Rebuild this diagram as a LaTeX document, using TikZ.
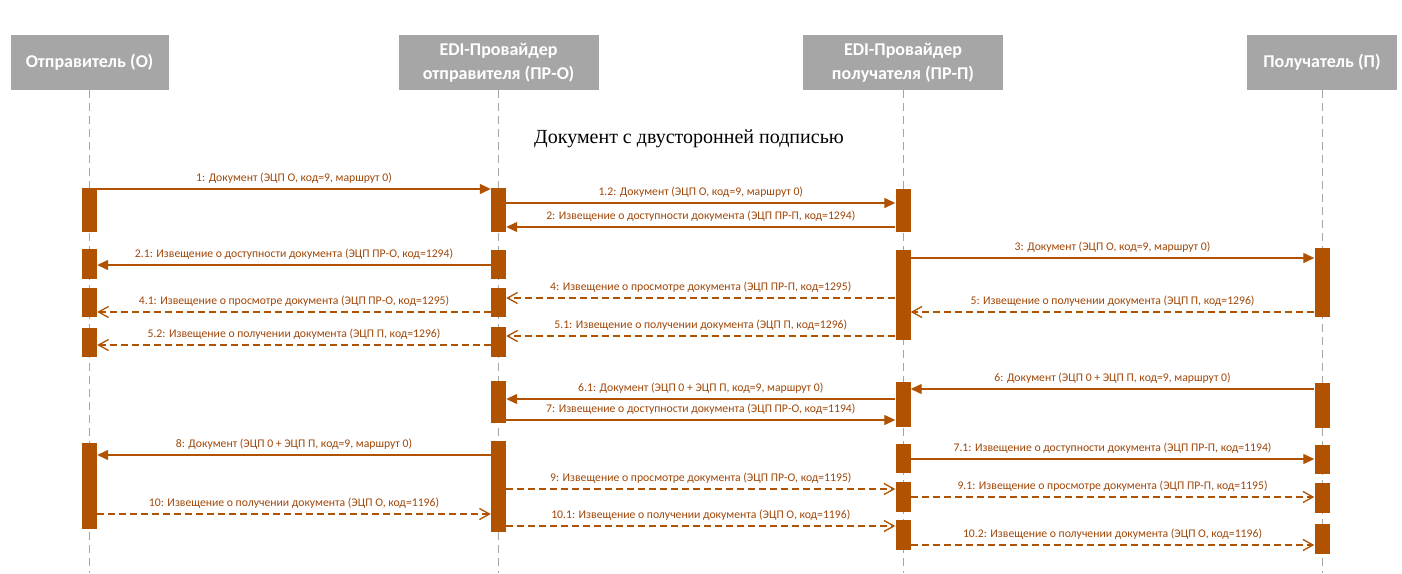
\documentclass[tikz,border=0pt]{standalone}
\usepackage{fontspec}
\setmainfont{Carlito}
\newfontfamily\titlefont{Liberation Serif}
\usetikzlibrary{arrows.meta}
\definecolor{brn}{RGB}{176,82,0}
\definecolor{brntext}{RGB}{160,72,10}
\definecolor{hdr}{RGB}{166,166,166}
\definecolor{life}{RGB}{165,165,165}
\newcommand\mkbar[4]{\node[actbar, minimum height={#4pt-#3pt}, anchor=north] (#1) at (#2,#3) {};}
\begin{document}
\begin{tikzpicture}[x=1pt,y=-1pt,
 hdrbox/.style={fill=hdr, text=white, font=\bfseries\fontsize{18}{24}\selectfont, align=center, inner sep=0pt, minimum height=55pt},
 lifeline/.style={draw=life, line width=1pt, dash pattern=on 8pt off 5pt},
 actbar/.style={fill=brn, draw=none, minimum width=15pt, inner sep=0pt},
 msg/.style={draw=brn, line width=1.3pt, -{Triangle[length=11pt,width=10pt]}},
 ret/.style={draw=brn, line width=1.3pt, dash pattern=on 7pt off 4pt, -{Straight Barb[length=10pt,width=11pt]}},
 lbl/.style={above=4.5pt, font=\fontsize{11.7}{13}\selectfont, text=brntext, inner sep=0pt}
]
\fill[white] (0,0) rectangle (1402,573);
\useasboundingbox (0,0) rectangle (1402,573);

% headers
\node[hdrbox, minimum width=158pt] (hO) at (89.5,62.5) {Отправитель (О)};
\node[hdrbox, minimum width=200pt] (hA) at (498.5,62.5) {EDI-Провайдер\\отправителя (ПР-О)};
\node[hdrbox, minimum width=200pt] (hB) at (903,62.5) {EDI-Провайдер\\получателя (ПР-П)};
\node[hdrbox, minimum width=150pt] (hC) at (1322,62.5) {Получатель (П)};

% lifelines
\coordinate (eO) at (89.5,573);
\coordinate (eA) at (498.5,573);
\coordinate (eB) at (903,573);
\coordinate (eC) at (1322,573);
\draw[lifeline] (hO.south) -- (eO);
\draw[lifeline] (hA.south) -- (eA);
\draw[lifeline] (hB.south) -- (eB);
\draw[lifeline] (hC.south) -- (eC);

% title
\node[font=\titlefont\fontsize{20}{24}\selectfont] (title) at (689,139) {Документ с двусторонней подписью};

% activation bars
\mkbar{bO1}{89.5}{188}{232}
\mkbar{bO2}{89.5}{249}{279}
\mkbar{bO3}{89.5}{288}{317}
\mkbar{bO4}{89.5}{328}{357}
\mkbar{bO5}{89.5}{443}{529}

\mkbar{bA1}{498.5}{188}{232}
\mkbar{bA2}{498.5}{250}{279}
\mkbar{bA3}{498.5}{288}{317}
\mkbar{bA4}{498.5}{327}{357}
\mkbar{bA5}{498.5}{381}{423}
\mkbar{bA6}{498.5}{441}{532}

\mkbar{bB1}{903}{189}{232}
\mkbar{bB2}{903}{250}{340}
\mkbar{bB3}{903}{382}{427}
\mkbar{bB4}{903}{444}{473}
\mkbar{bB5}{903}{482}{512}
\mkbar{bB6}{903}{520}{550}

\mkbar{bC1}{1322}{248}{317}
\mkbar{bC2}{1322}{383}{428}
\mkbar{bC3}{1322}{445}{474}
\mkbar{bC4}{1322}{483}{513}
\mkbar{bC5}{1322}{524}{554}

% messages
\draw[msg] (bO1.east |- 0,189) -- node[lbl]{1: Документ (ЭЦП О, код=9, маршрут 0)} (bA1.west |- 0,189);
\draw[msg] (bA1.east |- 0,203) -- node[lbl]{1.2: Документ (ЭЦП О, код=9, маршрут 0)} (bB1.west |- 0,203);
\draw[msg] (bB1.west |- 0,227) -- node[lbl]{2: Извещение о доступности документа (ЭЦП ПР-П, код=1294)} (bA1.east |- 0,227);
\draw[msg] (bA2.west |- 0,265) -- node[lbl]{2.1: Извещение о доступности документа (ЭЦП ПР-О, код=1294)} (bO2.east |- 0,265);
\draw[msg] (bB2.east |- 0,258) -- node[lbl]{3: Документ (ЭЦП О, код=9, маршрут 0)} (bC1.west |- 0,258);
\draw[ret] (bB2.west |- 0,298) -- node[lbl]{4: Извещение о просмотре документа (ЭЦП ПР-П, код=1295)} (bA3.east |- 0,298);
\draw[ret] (bA3.west |- 0,312) -- node[lbl]{4.1: Извещение о просмотре документа (ЭЦП ПР-О, код=1295)} (bO3.east |- 0,312);
\draw[ret] (bC1.west |- 0,312) -- node[lbl]{5: Извещение о получении документа (ЭЦП П, код=1296)} (bB2.east |- 0,312);
\draw[ret] (bB2.west |- 0,336) -- node[lbl]{5.1: Извещение о получении документа (ЭЦП П, код=1296)} (bA4.east |- 0,336);
\draw[ret] (bA4.west |- 0,345) -- node[lbl]{5.2: Извещение о получении документа (ЭЦП П, код=1296)} (bO4.east |- 0,345);
\draw[msg] (bC2.west |- 0,389) -- node[lbl]{6: Документ (ЭЦП 0 + ЭЦП П, код=9, маршрут 0)} (bB3.east |- 0,389);
\draw[msg] (bB3.west |- 0,399) -- node[lbl]{6.1: Документ (ЭЦП 0 + ЭЦП П, код=9, маршрут 0)} (bA5.east |- 0,399);
\draw[msg] (bA5.east |- 0,420) -- node[lbl]{7: Извещение о доступности документа (ЭЦП ПР-О, код=1194)} (bB3.west |- 0,420);
\draw[msg] (bA6.west |- 0,455) -- node[lbl]{8: Документ (ЭЦП 0 + ЭЦП П, код=9, маршрут 0)} (bO5.east |- 0,455);
\draw[msg] (bB4.east |- 0,459) -- node[lbl]{7.1: Извещение о доступности документа (ЭЦП ПР-П, код=1194)} (bC3.west |- 0,459);
\draw[ret] (bA6.east |- 0,489) -- node[lbl]{9: Извещение о просмотре документа (ЭЦП ПР-О, код=1195)} (bB5.west |- 0,489);
\draw[ret] (bB5.east |- 0,497) -- node[lbl]{9.1: Извещение о просмотре документа (ЭЦП ПР-П, код=1195)} (bC4.west |- 0,497);
\draw[ret] (bO5.east |- 0,514) -- node[lbl]{10: Извещение о получении документа (ЭЦП О, код=1196)} (bA6.west |- 0,514);
\draw[ret] (bA6.east |- 0,526) -- node[lbl]{10.1: Извещение о получении документа (ЭЦП О, код=1196)} (bB6.west |- 0,526);
\draw[ret] (bB6.east |- 0,545) -- node[lbl]{10.2: Извещение о получении документа (ЭЦП О, код=1196)} (bC5.west |- 0,545);
\end{tikzpicture}
\end{document}
